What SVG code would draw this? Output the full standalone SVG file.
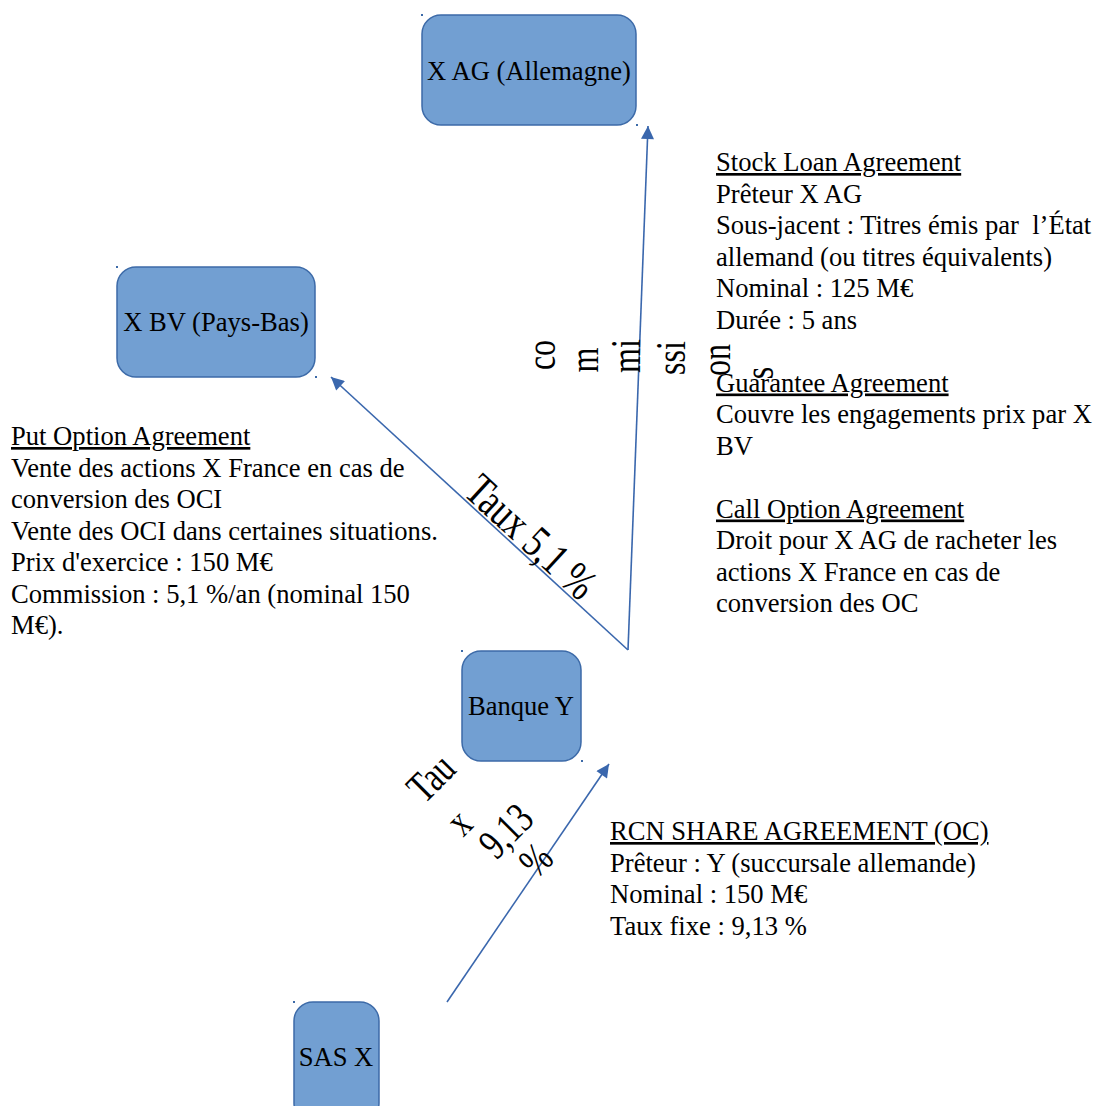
<svg xmlns="http://www.w3.org/2000/svg" width="1094" height="1106" viewBox="0 0 1094 1106">
<defs>
<style>
.node{fill:#729fd2;stroke:#3c6aa8;stroke-width:1.5}
.dot{fill:#3c6aa8}
.lbl{font-family:"Liberation Serif","Times New Roman",serif;font-size:26.6px;fill:#000;text-anchor:middle}
.txt{font-family:"Liberation Serif","Times New Roman",serif;font-size:26.6px;fill:#000}
.u{text-decoration:underline}
.rot{font-family:"Liberation Serif","Times New Roman",serif;font-size:32px;fill:#000;text-anchor:middle}
.big{font-size:35px}
.conn{stroke:#3a67ad;stroke-width:1.6;fill:none}
</style>
<marker id="arr" viewBox="0 0 10 10" refX="10" refY="5" markerWidth="17" markerHeight="13" markerUnits="userSpaceOnUse" orient="auto">
<path d="M0,0 L10,5 L0,10 Z" fill="#3a67ad"/>
</marker>
</defs>
<rect width="1094" height="1106" fill="#fff"/>

<g id="node-xag">
<rect class="node" x="422" y="15" width="214" height="110" rx="19"/>
<rect class="dot" x="421" y="14" width="2" height="2"/>
<rect class="dot" x="636" y="124" width="2" height="2"/>
<text class="lbl" x="529" y="80">X AG (Allemagne)</text>
</g>
<g id="node-xbv">
<rect class="node" x="117" y="267" width="198" height="110" rx="19"/>
<rect class="dot" x="116" y="266" width="2" height="2"/>
<rect class="dot" x="315" y="376" width="2" height="2"/>
<text class="lbl" x="216" y="331">X BV (Pays-Bas)</text>
</g>
<g id="node-banque">
<rect class="node" x="462" y="651" width="119" height="110" rx="19"/>
<rect class="dot" x="461" y="650" width="2" height="2"/>
<rect class="dot" x="581" y="760" width="2" height="2"/>
<text class="lbl" x="521" y="715">Banque Y</text>
</g>
<g id="node-sas">
<rect class="node" x="294" y="1002" width="85" height="120" rx="19"/>
<rect class="dot" x="293" y="1001" width="2" height="2"/>
<text class="lbl" x="336" y="1066">SAS X</text>
</g>

<g id="connectors">
<line class="conn" x1="628" y1="650" x2="648" y2="126" marker-end="url(#arr)"/>
<line class="conn" x1="628" y1="650" x2="331" y2="377" marker-end="url(#arr)"/>
<line class="conn" x1="447" y1="1002" x2="609" y2="764" marker-end="url(#arr)"/>
</g>

<g id="label-commissions">
<text class="rot" transform="translate(555,355) rotate(-90) scale(1,1.35)">co</text>
<text class="rot" transform="translate(598,360) rotate(-90) scale(1,1.35)">m</text>
<text class="rot" transform="translate(640,356) rotate(-90) scale(1,1.35)">mi</text>
<text class="rot" transform="translate(685,358) rotate(-90) scale(1,1.35)">ssi</text>
<text class="rot" transform="translate(730,360) rotate(-90) scale(1,1.35)">on</text>
<text class="rot" transform="translate(773,373) rotate(-90) scale(1,1.35)">s</text>
</g>
<g id="label-taux51">
<text class="rot big" transform="translate(521,548) rotate(42.6) scale(1,1.3)">Taux 5,1 %</text>
</g>
<g id="label-taux913">
<text class="rot" transform="translate(441,788) rotate(-45) scale(1,1.35)">Tau</text>
<text class="rot" transform="translate(469,832) rotate(-45) scale(1,1.35)">x</text>
<text class="rot" transform="translate(516,841) rotate(-45) scale(1,1.35)">9,13</text>
<text class="rot" transform="translate(546,870) rotate(-45) scale(1,1.35)">%</text>
</g>

<g id="text-right">
<text class="txt" x="716" y="171"><tspan class="u">Stock Loan Agreement</tspan></text>
<text class="txt" x="716" y="202.5">Prêteur X AG</text>
<text class="txt" x="716" y="234" xml:space="preserve">Sous-jacent : Titres émis par  l’État</text>
<text class="txt" x="716" y="265.5">allemand (ou titres équivalents)</text>
<text class="txt" x="716" y="297">Nominal : 125 M€</text>
<text class="txt" x="716" y="328.5">Durée : 5 ans</text>
<text class="txt" x="716" y="391.5"><tspan class="u">Guarantee Agreement</tspan></text>
<text class="txt" x="716" y="423">Couvre les engagements prix par X</text>
<text class="txt" x="716" y="454.5">BV</text>
<text class="txt" x="716" y="517.5"><tspan class="u">Call Option Agreement</tspan></text>
<text class="txt" x="716" y="549">Droit pour X AG de racheter les</text>
<text class="txt" x="716" y="580.5">actions X France en cas de</text>
<text class="txt" x="716" y="612">conversion des OC</text>
</g>
<g id="text-left">
<text class="txt" x="11" y="445"><tspan class="u">Put Option Agreement</tspan></text>
<text class="txt" x="11" y="476.5">Vente des actions X France en cas de</text>
<text class="txt" x="11" y="508">conversion des OCI</text>
<text class="txt" x="11" y="539.5">Vente des OCI dans certaines situations.</text>
<text class="txt" x="11" y="571">Prix d'exercice : 150 M€</text>
<text class="txt" x="11" y="602.5">Commission : 5,1 %/an (nominal 150</text>
<text class="txt" x="11" y="634">M€).</text>
</g>
<g id="text-rcn">
<text class="txt" x="610" y="840"><tspan class="u">RCN SHARE AGREEMENT (OC)</tspan></text>
<text class="txt" x="610" y="871.5">Prêteur : Y (succursale allemande)</text>
<text class="txt" x="610" y="903">Nominal : 150 M€</text>
<text class="txt" x="610" y="934.5">Taux fixe : 9,13 %</text>
</g>
</svg>
